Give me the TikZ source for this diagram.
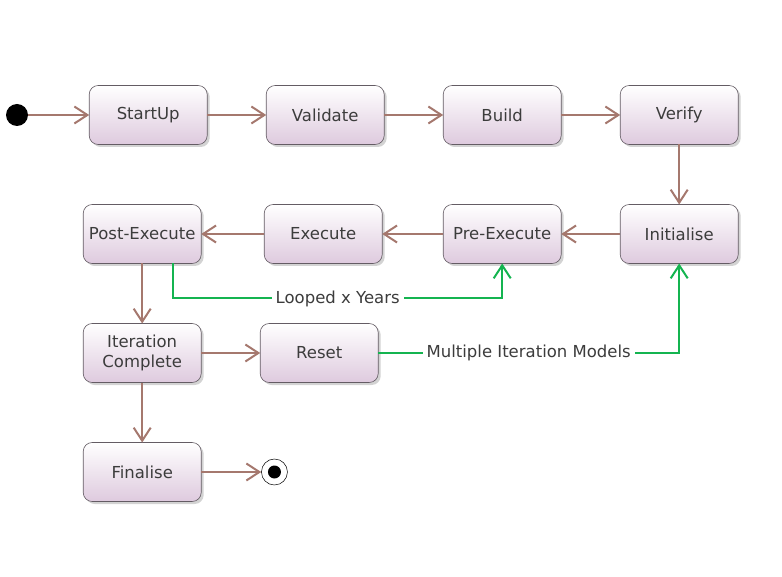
\documentclass[tikz,border=0pt]{standalone}
\usepackage{fontspec}
\setmainfont{DejaVu Sans}
\usepackage{xcolor}
\usepackage{tikz}
\usetikzlibrary{arrows.meta, positioning, shadows}

\definecolor{transbrown}{RGB}{165,120,110}
\definecolor{loopgreen}{RGB}{20,180,80}
\definecolor{statetop}{RGB}{255,255,255}
\definecolor{statebot}{RGB}{222,202,222}
\definecolor{stateborder}{RGB}{100,92,100}
\definecolor{statetext}{RGB}{60,60,60}

\begin{document}
\begin{tikzpicture}[
                x=1pt, y=1pt,
                node distance=59pt,
                font=\fontsize{16.5}{20}\selectfont,
                state/.style={rectangle, rounded corners=9pt, draw=stateborder, line width=0.6pt,
                    top color=statetop, bottom color=statebot, text=statetext, align=center,
                    minimum width=118pt, minimum height=59pt, outer sep=0pt,
                    drop shadow={shadow xshift=2.5pt, shadow yshift=-2.5pt, opacity=0.35}},
                initstate/.style={circle, fill=black, minimum size=22pt, inner sep=0pt},
                finalstate/.style={circle, draw=black, fill=white, line width=0.5pt, minimum size=26pt, inner sep=0pt,
                    path picture={\fill[black] (path picture bounding box.center) circle (6.5pt);}},
                transition/.style={draw=transbrown, line width=2pt, -{Straight Barb[length=13pt, width=17pt, line width=2pt]}},
                loopline/.style={draw=loopgreen, line width=2pt, -{Straight Barb[length=13pt, width=17pt, line width=2pt]}},
                looplabel/.style={fill=white, text=statetext, inner sep=4pt}
            ]
                \useasboundingbox (0,0) rectangle (782,-577);

                % States
                \node[initstate] (start) at (17,-115) {};
                \node[state, right=61pt of start] (startup) {StartUp};
                \node[state, right=of startup] (validate) {Validate};
                \node[state, right=of validate] (build) {Build};
                \node[state, right=of build] (verify) {Verify};
                \node[state, below=60pt of verify] (init) {Initialise};
                \node[state, left=of init] (preexec) {Pre-Execute};
                \node[state, left=61pt of preexec] (exec) {Execute};
                \node[state, left=63pt of exec] (postexec) {Post-Execute};
                \node[state, below=60pt of postexec] (itercomp) {Iteration\\Complete};
                \node[state, right=of itercomp] (reset) {Reset};
                \node[state, below=60pt of itercomp] (finalise) {Finalise};
                \node[finalstate, right=60pt of finalise] (stop) {};

                % Transitions
                \path[transition]
                    (start) edge (startup)
                    (startup) edge (validate)
                    (validate) edge (build)
                    (build) edge (verify)
                    (verify) edge (init)
                    (init) edge (preexec)
                    (preexec) edge (exec)
                    (exec) edge (postexec)
                    (postexec) edge (itercomp)
                    (itercomp) edge (reset)
                    (itercomp) edge (finalise)
                    (finalise) edge (stop);

                % Loops
                \draw[loopline] ([xshift=31pt]postexec.south) -- ++(0,-35) -| node[pos=0.25, looplabel] {Looped x Years} (preexec.south);
                \draw[loopline] (reset.east) -| node[pos=0.25, looplabel] {Multiple Iteration Models} (init.south);
            \end{tikzpicture}
\end{document}
